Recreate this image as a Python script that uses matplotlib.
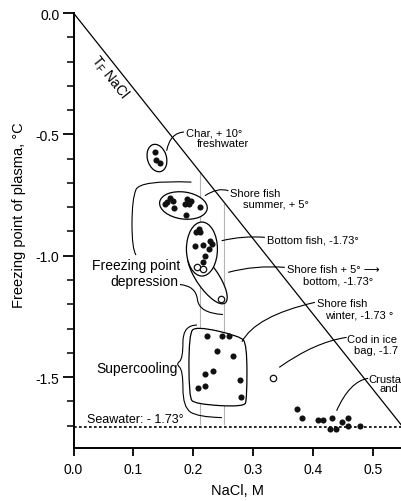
import numpy as np
import matplotlib
matplotlib.use("Agg")
import matplotlib.pyplot as plt
from matplotlib.path import Path
from matplotlib.patches import PathPatch, Ellipse
from matplotlib.ticker import MultipleLocator
from matplotlib.transforms import ScaledTranslation

# Set the fonts:
plt.rcParams.update({'font.family': ['Liberation Sans', 'DejaVu Sans'], 'font.size': 10,
                     'axes.unicode_minus': False, 'mathtext.fontset': 'custom',
                     'mathtext.rm': 'Liberation Sans'})

# Freezing point of plasma (degC) against NaCl (M) for each group:
char_x = [0.136, 0.137, 0.145]
char_y = [-0.573, -0.604, -0.618]
summer_x = [0.153, 0.161, 0.166, 0.156, 0.168, 0.189, 0.196, 0.186, 0.193, 0.211, 0.188]
summer_y = [-0.787, -0.763, -0.773, -0.777, -0.805, -0.766, -0.773, -0.787, -0.787, -0.801, -0.832]
bottom_x = [0.2045, 0.210, 0.212, 0.203, 0.216, 0.228, 0.231, 0.227, 0.2195, 0.217]
bottom_y = [-0.901, -0.890, -0.904, -0.959, -0.956, -0.938, -0.952, -0.972, -1.000, -1.027]
transfer_x = [0.206, 0.216, 0.247]
transfer_y = [-1.048, -1.055, -1.178]
winter_x = [0.223, 0.248, 0.260, 0.240, 0.266, 0.233, 0.2195, 0.278, 0.208, 0.2195, 0.279]
winter_y = [-1.330, -1.332, -1.332, -1.391, -1.412, -1.474, -1.487, -1.511, -1.546, -1.538, -1.583]
cod_x = [0.333]
cod_y = [-1.502]
crust_x = [0.374, 0.381, 0.409, 0.416, 0.431, 0.428, 0.439, 0.449, 0.459, 0.459, 0.478]
crust_y = [-1.632, -1.669, -1.676, -1.676, -1.670, -1.713, -1.713, -1.684, -1.669, -1.700, -1.703]

# Freezing point line of NaCl solutions and seawater level:
nacl_x = [0.0, 0.6]
nacl_y = [0.0, -1.86]
seawater_y = -1.705
# NaCl range of the groups (grey guide lines):
guide_x = [0.212, 0.252]
guide_top = [-0.655, -0.785]
guide_bottom = -1.693

x_ticks = [0.0, 0.1, 0.2, 0.3, 0.4, 0.5]
y_ticks = [0.0, -0.5, -1.0, -1.5]


def smooth_path(xs, ys, closed=False):
    # Quadratic spline through the midpoints of the control polygon:
    pts = np.column_stack([xs, ys])
    n = len(pts)
    if closed:
        verts = [(pts[-1] + pts[0]) / 2]
        codes = [Path.MOVETO]
        for i in range(n):
            verts += [pts[i], (pts[i] + pts[(i + 1) % n]) / 2]
            codes += [Path.CURVE3, Path.CURVE3]
        return Path(verts, codes)
    verts = [pts[0]]
    codes = [Path.MOVETO]
    for i in range(1, n - 1):
        end = pts[i + 1] if i == n - 2 else (pts[i] + pts[i + 1]) / 2
        verts += [pts[i], end]
        codes += [Path.CURVE3, Path.CURVE3]
    if n == 2:
        verts.append(pts[1])
        codes.append(Path.LINETO)
    return Path(verts, codes)


fig = plt.figure(figsize=(4.01, 5.02), dpi=100)
ax = fig.add_axes([73.5 / 401, 53 / 502, 327.5 / 401, 435 / 502])
ax.set_xlim(0, 0.547)
ax.set_ylim(-1.792, 0)

# Reference lines:
ax.plot(nacl_x, nacl_y, color='black', lw=0.9, zorder=2, clip_on=True)
ax.axhline(seawater_y, color='black', lw=1.2, ls=(0, (1.6, 1.4)), zorder=2)
for gx, gt in zip(guide_x, guide_top):
    ax.plot([gx, gx], [gt, guide_bottom], color='#b5b5b5', lw=0.8, zorder=1)

# Group outlines (sizes in pixels):
ovals = [((0.1394, -0.5975), 19, 28, 16, 2),
         ((0.1836, -0.793), 48, 27, -8, 2),
         ((0.2145, -0.9724), 31, 54, 0, 2),
         ((0.2237, -1.0898), 62, 22, -55.5, 1.5)]
for (cx, cy), w, h, ang, z in ovals:
    ax.add_patch(Ellipse((0, 0), w, h, angle=ang, transform=ScaledTranslation(cx, cy, ax.transData),
                         facecolor='white', edgecolor='black', lw=0.9, zorder=z))
box_x = [0.2045, 0.2780, 0.2897, 0.2897, 0.2847, 0.2028, 0.1928, 0.1928]
box_y = [-1.2897, -1.3309, -1.3638, -1.5904, -1.6234, -1.6110, -1.5822, -1.3226]
ax.add_patch(PathPatch(smooth_path(box_x, box_y, closed=True), facecolor='white', edgecolor='black',
                       lw=0.9, zorder=2))

# Data points:
for xs, ys in [(char_x, char_y), (summer_x, summer_y), (bottom_x, bottom_y), (winter_x, winter_y),
               (crust_x, crust_y)]:
    ax.plot(xs, ys, 'o', color='#111111', ms=4.4, mew=0, zorder=4)
for xs, ys in [(transfer_x, transfer_y), (cod_x, cod_y)]:
    ax.plot(xs, ys, 'o', mfc='white', mec='#111111', ms=4.6, mew=0.9, zorder=4)

# Leader lines (start, bend, end):
leaders = [([0.1845, 0.1611, 0.1556], [-0.4903, -0.4944, -0.5674]),
           ([0.2588, 0.2412, 0.2195], [-0.7322, -0.7169, -0.7528]),
           ([0.3197, 0.2830, 0.2474], [-0.9242, -0.9168, -0.9382]),
           ([0.3530, 0.3030, 0.2585], [-1.0478, -1.0383, -1.0684]),
           ([0.4032, 0.3038, 0.2813], [-1.1920, -1.2485, -1.3544]),
           ([0.4561, 0.4032, 0.3436], [-1.3362, -1.3556, -1.4598]),
           ([0.4921, 0.4616, 0.4394], [-1.5051, -1.5163, -1.6386])]
# Brackets:
brackets = [([0.1970, 0.1110, 0.0977, 0.0977, 0.1043], [-0.6966, -0.6884, -0.7664, -0.9724, -0.9971]),
            ([0.1778, 0.2045, 0.2095, 0.2496], [-1.1186, -1.1248, -1.2360, -1.2422]),
            ([0.2062, 0.1828, 0.1828, 0.1711, 0.1828, 0.1828, 0.2078, 0.2479],
             [-1.2855, -1.2855, -1.4256, -1.4462, -1.4710, -1.6234, -1.6646, -1.6667])]
for xs, ys in leaders + brackets:
    ax.add_patch(PathPatch(smooth_path(xs, ys), facecolor='none', edgecolor='black', lw=0.8, zorder=3))

# Labels (the last ones are cut by the right edge in the original):
small = 8
ax.text(0.1878, -0.5047, "Char, + 10°", fontsize=small)
ax.text(0.2057, -0.5468, "freshwater", fontsize=small)
ax.text(0.2613, -0.7520, "Shore fish", fontsize=small)
ax.text(0.2835, -0.7973, "summer, + 5°", fontsize=small)
ax.text(0.3225, -0.9456, "Bottom fish, -1.73°", fontsize=small)
ax.text(0.3569, -1.0672, "Shore fish + 5° ⟶", fontsize=small)
ax.text(0.3836, -1.1125, "bottom, -1.73°", fontsize=small)
ax.text(0.4060, -1.2052, "Shore fish", fontsize=small)
ax.text(0.4199, -1.2526, "winter, -1.73 °", fontsize=small)
ax.text(0.4561, -1.3535, "Cod in ice", fontsize=small)
ax.text(0.4683, -1.3988, "bag, -1.7", fontsize=small)
ax.text(0.4917, -1.5204, "Crusta", fontsize=small)
ax.text(0.5117, -1.5575, "and", fontsize=small)
ax.text(0.1778, -1.0548, "Freezing point", fontsize=10, ha='right')
ax.text(0.1750, -1.1207, "depression", fontsize=10, ha='right')
ax.text(0.0376, -1.4804, "Supercooling", fontsize=10)
ax.text(0.023, -1.686, "Seawater: - 1.73°", fontsize=9)

# Rotate the NaCl label along its line:
p0 = ax.transData.transform((nacl_x[0], nacl_y[0]))
p1 = ax.transData.transform((nacl_x[1], nacl_y[1]))
angle = np.degrees(np.arctan2(p1[1] - p0[1], p1[0] - p0[0]))
ax.text(0.061, -0.26, r"T$_\mathregular{F}$ NaCl", fontsize=10, rotation=angle, rotation_mode='anchor',
        ha='center', va='center')

# Decorate the axes:
ax.spines[['right', 'top']].set_visible(False)
ax.spines[['left', 'bottom']].set_linewidth(1.4)
ax.set_xticks(x_ticks)
ax.set_yticks(y_ticks)
ax.yaxis.set_minor_locator(MultipleLocator(0.1))
ax.tick_params(axis='both', which='major', direction='out', width=1.3, labelsize=10)
ax.tick_params(axis='y', which='major', length=8, pad=2)
ax.tick_params(axis='y', which='minor', length=5, width=1.1)
ax.tick_params(axis='x', which='major', length=6, pad=4)
ax.set_xlabel("NaCl, M", fontsize=10.5, labelpad=5)
ax.set_ylabel("Freezing point of plasma, °C", fontsize=10.5)
ax.yaxis.set_label_coords(-0.145, 0.538)

fig.savefig("out.png", dpi=100, facecolor='white')
plt.close()
